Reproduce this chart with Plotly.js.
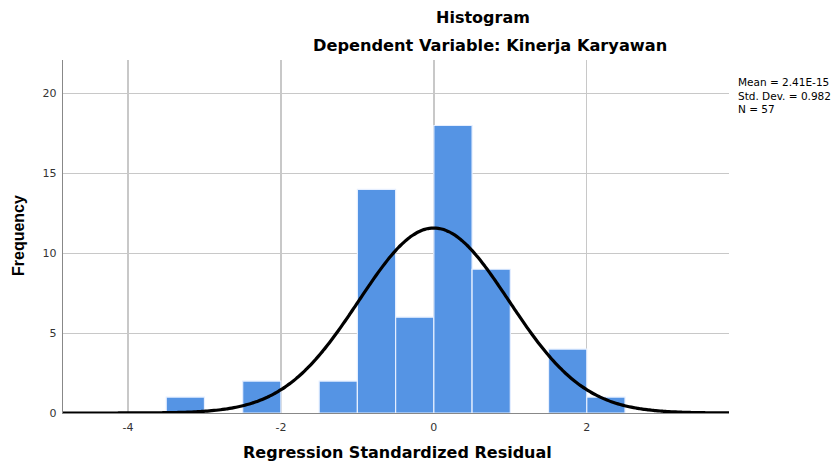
<!DOCTYPE html>
<html>
<head>
<meta charset="utf-8">
<script src="https://cdn.plot.ly/plotly-3.0.1.min.js"></script>
<style>
  html, body { margin: 0; padding: 0; background: #ffffff; }
  #chart { width: 836px; height: 463px; }
</style>
</head>
<body>
<div id="chart"></div>
<script>
// Histogram bins (start of each bin, width 0.5) and counts
const binStarts = [-3.5, -2.5, -1.5, -1.0, -0.5, 0.0, 0.5, 1.5, 2.0];
const binWidth = 0.5;
const counts = [1, 2, 2, 14, 6, 18, 9, 4, 1];

// Summary statistics shown on the chart
const meanVal = 2.41e-15;
const stdDev = 0.982;
const nObs = 57;
const statLabels = ["Mean = 2.41E-15", "Std. Dev. = 0.982", "N = 57"];

const xTicks = [-4, -2, 0, 2];
const yTicks = [0, 5, 10, 15, 20];

const xRange = [-4.85, 3.86];
const yRange = [0, 22.1];

// Fitted normal curve from the stated mean, std. dev. and N
const curveX = [];
const curveY = [];
const steps = 300;
for (let i = 0; i <= steps; i++) {
  const x = xRange[0] + (xRange[1] - xRange[0]) * i / steps;
  const z = (x - meanVal) / stdDev;
  curveX.push(x);
  curveY.push(nObs * binWidth * Math.exp(-0.5 * z * z) / (stdDev * Math.sqrt(2 * Math.PI)));
}

const binCenters = binStarts.map(s => s + binWidth / 2);

const wide = "DejaVu Sans, Verdana, sans-serif";
const narrow = "Liberation Sans, Arial, sans-serif";

const traces = [
  {
    type: "bar",
    x: binCenters,
    y: counts,
    width: binWidth,
    marker: { color: "#5594e4", line: { color: "#e6efff", width: 1.2 } },
    hoverinfo: "x+y"
  },
  {
    type: "scatter",
    mode: "lines",
    x: curveX,
    y: curveY,
    line: { color: "#000000", width: 3.2, shape: "spline" },
    hoverinfo: "skip"
  }
];

const W = 666, H = 353;
function px(p) { return (p - 63) / W; }
function py(p) { return (413 - p) / H; }

const annotations = [
  { text: "<b>Histogram</b>", x: px(482.5), y: py(18), xref: "paper", yref: "paper",
    xanchor: "center", yanchor: "middle", showarrow: false,
    font: { family: wide, size: 16, color: "#000" } },
  { text: "<b>Dependent Variable: Kinerja Karyawan</b>", x: px(489.5), y: py(46), xref: "paper", yref: "paper",
    xanchor: "center", yanchor: "middle", showarrow: false,
    font: { family: wide, size: 16.2, color: "#000" } },
  { text: "<b>Regression Standardized Residual</b>", x: px(397), y: py(452), xref: "paper", yref: "paper",
    xanchor: "center", yanchor: "middle", showarrow: false,
    font: { family: wide, size: 16, color: "#000" } },
  { text: "<b>Frequency</b>", x: px(18), y: py(236), xref: "paper", yref: "paper",
    xanchor: "center", yanchor: "middle", showarrow: false, textangle: -90,
    font: { family: narrow, size: 16, color: "#000" } },
  { text: statLabels.join("<br>"), x: px(736), y: py(95), xref: "paper", yref: "paper",
    xanchor: "left", yanchor: "middle", align: "left", showarrow: false,
    font: { family: wide, size: 10.5, color: "#000" } }
];

const layout = {
  width: 836,
  height: 463,
  margin: { l: 63, r: 107, t: 60, b: 50, pad: 0 },
  paper_bgcolor: "#ffffff",
  plot_bgcolor: "#ffffff",
  showlegend: false,
  bargap: 0,
  xaxis: {
    range: xRange,
    tickvals: xTicks,
    ticktext: xTicks.map(String),
    showgrid: true,
    gridcolor: "#c8c8c8",
    gridwidth: 1.3,
    zeroline: false,
    showline: true,
    linecolor: "#888888",
    linewidth: 1,
    ticks: "",
    ticklabelstandoff: 4,
    tickfont: { family: wide, size: 11, color: "#333333" }
  },
  yaxis: {
    range: yRange,
    tickvals: yTicks,
    ticktext: yTicks.map(String),
    showgrid: true,
    gridcolor: "#c8c8c8",
    gridwidth: 1,
    zeroline: false,
    showline: true,
    linecolor: "#888888",
    linewidth: 1.3,
    ticks: "",
    ticklabelstandoff: 3,
    tickfont: { family: wide, size: 11, color: "#333333" }
  },
  annotations: annotations
};

Plotly.newPlot("chart", traces, layout, { displayModeBar: false, staticPlot: true });
</script>
</body>
</html>
